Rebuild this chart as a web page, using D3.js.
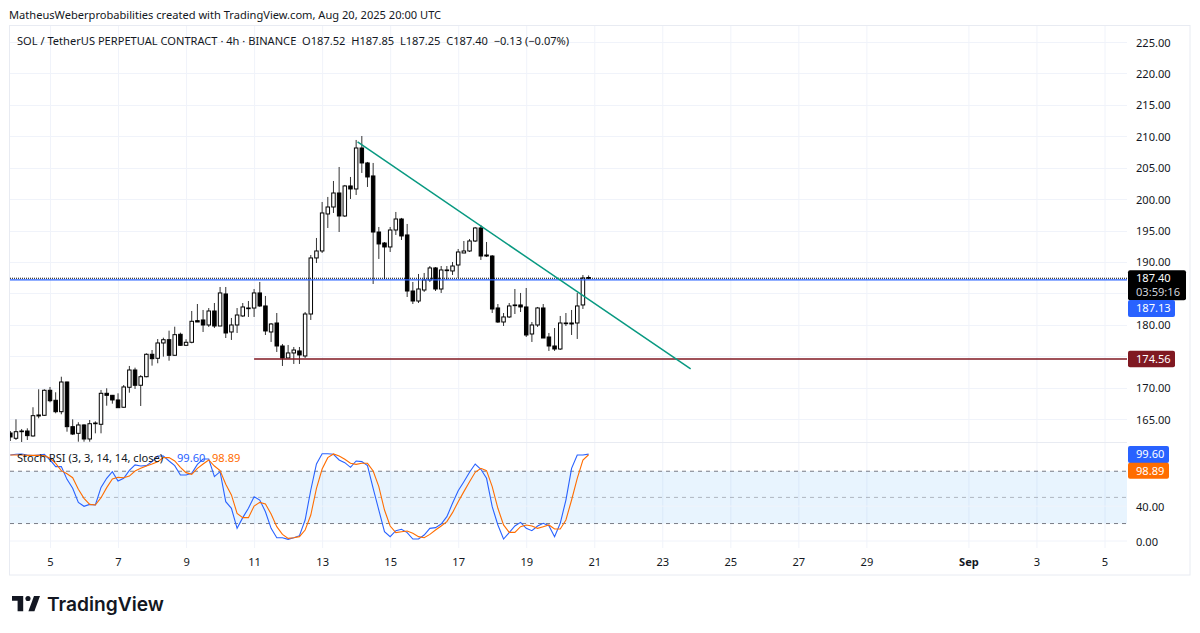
<!DOCTYPE html>
<html>
<head>
<meta charset="utf-8">
<script src="https://cdn.jsdelivr.net/npm/d3@7"></script>
<style>
html,body{margin:0;padding:0;background:#fff;}
svg{display:block;}
text{font-family:"Noto Sans",sans-serif;font-size:11.1px;fill:#131722;}
</style>
</head>
<body>
<svg id="chart" width="1200" height="633"></svg>
<script>
// SOL/USDT perpetual, 4h candles from Aug 3 20:00 UTC
const opens=[162.77,161.93,163.09,163.09,162.30,165.48,165.59,169.57,167.98,166.16,
170.89,163.78,162.72,164.05,161.82,164.25,164.16,169.09,168.77,168.03,
166.87,170.05,172.80,170.37,171.73,175.30,174.66,177.10,177.62,175.14,
178.48,176.73,177.21,180.65,180.76,179.96,182.19,179.80,184.90,178.85,
179.96,181.40,182.56,182.66,185.06,182.99,178.85,180.28,176.62,174.71,
175.51,175.83,175.03,181.71,190.63,191.74,197.63,198.74,200.97,197.31,
202.09,201.61,208.13,205.75,203.68,194.76,193.01,192.38,195.08,196.83,
194.29,185.37,183.78,185.53,187.13,189.04,185.69,188.61,188.56,189.51,
191.42,191.74,193.33,195.40,191.10,190.94,182.67,180.44,181.24,183.04,
183.15,182.83,178.53,179.96,182.67,178.05,176.62,176.14,180.17,180.28,
180.28,183.15,187.52];
const highs=[163.09,164.95,163.41,163.52,166.87,169.73,169.73,170.10,169.25,171.73,
170.94,164.95,164.48,164.16,164.84,164.63,169.62,169.89,168.82,169.09,
170.41,173.44,173.17,171.99,175.46,175.98,177.73,177.94,179.06,179.69,
178.74,177.69,182.19,183.30,182.35,182.66,183.46,186.01,186.01,181.08,
182.66,183.46,183.78,185.69,186.81,184.58,180.28,181.87,176.94,176.78,
176.46,176.46,182.03,191.10,193.81,199.54,200.34,202.88,205.11,202.25,
203.52,209.41,210.04,205.91,205.75,195.56,193.17,195.56,197.95,197.00,
196.04,186.81,188.08,188.24,189.35,189.19,189.35,189.35,189.99,192.06,
193.33,193.65,195.56,195.88,193.17,191.10,183.30,181.87,183.46,185.69,
185.06,185.85,180.44,182.83,183.30,178.69,179.48,181.40,181.87,182.35,
185.06,187.92,187.85];
const lows=[161.50,161.66,161.23,161.66,162.19,165.11,165.48,167.66,165.91,165.75,
162.98,162.45,161.39,161.39,161.39,162.72,162.72,167.12,167.44,166.80,
166.80,169.19,169.78,167.07,171.64,173.49,173.87,174.92,174.28,175.08,
176.62,176.62,177.05,180.44,178.85,179.65,179.48,179.80,177.89,177.58,
178.69,181.24,181.24,181.24,182.83,178.37,177.26,175.67,173.44,174.71,
173.76,173.76,174.71,180.76,189.83,191.42,195.40,197.79,194.76,197.15,
200.02,200.65,204.16,201.93,186.49,190.47,187.28,191.58,194.29,193.49,
184.42,183.30,183.46,185.22,186.81,185.37,185.06,187.13,187.92,187.44,
191.42,191.58,193.17,190.31,190.78,181.87,180.28,179.80,181.08,181.71,
182.03,178.05,177.26,179.65,177.89,175.83,175.83,175.98,179.80,178.37,
177.74,182.51,187.25];
const closes=[162.14,162.98,162.98,162.35,165.53,165.64,169.57,167.91,166.16,170.89,
163.78,162.61,164.05,161.82,164.25,164.36,169.09,168.77,168.03,166.80,
170.10,172.80,170.37,171.73,175.30,174.60,177.10,177.62,175.14,178.42,
176.73,177.21,180.55,180.44,179.96,182.19,179.80,185.06,178.69,179.96,
181.55,182.83,182.67,185.06,182.99,179.01,180.12,176.62,174.71,175.51,
175.98,175.19,181.71,190.63,191.74,197.79,198.74,200.97,197.31,202.09,
201.61,208.13,205.75,203.52,194.76,192.86,192.38,195.08,196.83,194.13,
185.37,183.78,185.69,187.13,189.04,185.69,188.72,188.72,189.35,191.58,
191.74,193.33,195.40,190.94,190.94,182.51,180.44,181.24,182.99,183.15,
182.83,178.37,179.96,182.67,177.89,176.62,176.14,180.28,180.28,180.12,
182.99,187.44,187.40];

// Stochastic RSI lines, one value per candle
const stochK=[98.6,99.4,99.8,98.6,97.9,98.6,99.4,92.9,85.3,85.3,
70.7,60.4,44.3,39.8,42.0,41.3,61.5,71.9,79.5,68.8,
71.9,81.0,87.2,86.0,86.4,91.0,97.5,97.5,91.75,86.4,
75.7,75.7,77.6,87.9,94.0,94.0,73.8,79.5,45.1,37.5,
14.5,26.8,37.5,50.8,47.0,33.6,14.5,3.8,3.8,1.9,
3.8,6.1,24.1,58.5,88.3,100,100,99.4,92.9,89.8,
84.5,91.75,91.0,86.4,60.4,35.5,10.7,5.0,11.8,13.4,
9.6,2.3,2.3,6.9,14.5,15.3,19.5,27.9,43.2,57.7,
68.0,78.8,88.3,82.2,71.9,39.4,18.4,2.3,9.6,17.2,
21.4,14.5,11.8,17.2,20.3,17.6,5.0,20.3,47.0,83.3,
98.6,98.6,99.60];
const stochD=[98.6,98.6,98.6,98.2,98.2,98.2,97.9,94.8,89.1,80.7,
77.2,72.6,59.3,48.9,42.0,41.3,49.7,61.2,71.1,73.0,
72.6,74.5,80.3,83.3,86.0,88.3,91.0,95.6,95.6,91.75,
84.5,78.4,76.5,83.3,88.3,92.9,86.0,80.7,65.0,52.8,
31.7,26.8,26.8,40.1,44.3,42.4,31.0,16.4,7.6,3.0,
3.8,5.0,12.6,29.8,60.4,82.6,95.6,99.8,97.5,93.7,
89.1,87.9,89.1,89.1,80.3,62.3,35.5,17.2,9.6,10.7,
11.5,8.8,5.0,3.8,7.6,12.6,17.2,22.2,32.5,45.1,
56.6,68.0,78.8,83.3,80.7,62.3,37.5,18.4,9.9,9.9,
16.4,18.4,17.2,14.5,16.4,18.4,13.8,13.8,24.1,47.0,
71.9,92.9,98.89];

// Axis ticks
const priceGrid=[225,220,215,210,205,200,195,190,185,180,175,170,165];
const priceTicks=[225,220,215,210,205,200,195,190,180,170,165];
const stochGrid=[40,0];
const stochBands=[80,50,20];
const dayTicks=[new Date(Date.UTC(2025,7,5)),new Date(Date.UTC(2025,7,7)),new Date(Date.UTC(2025,7,9)),
  new Date(Date.UTC(2025,7,11)),new Date(Date.UTC(2025,7,13)),new Date(Date.UTC(2025,7,15)),
  new Date(Date.UTC(2025,7,17)),new Date(Date.UTC(2025,7,19)),new Date(Date.UTC(2025,7,21)),
  new Date(Date.UTC(2025,7,23)),new Date(Date.UTC(2025,7,25)),new Date(Date.UTC(2025,7,27)),
  new Date(Date.UTC(2025,7,29)),new Date(Date.UTC(2025,8,1)),new Date(Date.UTC(2025,8,3)),
  new Date(Date.UTC(2025,8,5))];

// Drawn levels and trend line
const lastClose=187.40, prevLevel=187.13, support=174.56;
const supportStart=new Date(Date.UTC(2025,7,11));
const trendTimes=[new Date(Date.UTC(2025,7,14,1)),new Date(Date.UTC(2025,7,23,20))];
const trendPrices=[209.09,172.96];

const firstCandle=Date.UTC(2025,7,3,20);
const fourHours=4*3600*1000;
const candles=opens.map((o,i)=>({t:new Date(firstCandle+i*fourHours),o,h:highs[i],l:lows[i],c:closes[i],k:stochK[i],d:stochD[i]}));

// Frame geometry
const paneLeft=10,paneRight=1127,frameRight=1190,frameTop=26,paneSplit=443,paneBottom=548,frameBottom=575;
const gridColor="#f0f3fa",frameColor="#e8ebf2",axisFont='"Noto Sans",sans-serif',axisSize="11.1px";

const svg=d3.select("#chart");
const x=d3.scaleUtc().domain([Date.UTC(2025,7,5),Date.UTC(2025,8,5)]).range([50,1104.5]);
const y=d3.scaleLinear().domain([165,225]).range([419,42]);
const ys=d3.scaleLinear().domain([0,100]).range([541,453.8]);

const defs=svg.append("defs");
defs.append("clipPath").attr("id","price-clip").append("rect")
  .attr("x",paneLeft).attr("y",frameTop).attr("width",paneRight-paneLeft).attr("height",paneSplit-frameTop);
defs.append("clipPath").attr("id","stoch-clip").append("rect")
  .attr("x",paneLeft).attr("y",paneSplit).attr("width",paneRight-paneLeft).attr("height",paneBottom-paneSplit);

// Vertical and horizontal grid
const grid=svg.append("g").attr("stroke",gridColor).attr("fill","none");
grid.selectAll(".v").data(dayTicks).join("line").attr("class","v")
  .attr("x1",d=>x(d)+.5).attr("x2",d=>x(d)+.5).attr("y1",frameTop).attr("y2",paneBottom);
grid.selectAll(".h").data(priceGrid).join("line").attr("class","h")
  .attr("x1",paneLeft).attr("x2",paneRight).attr("y1",d=>Math.round(y(d))+.5).attr("y2",d=>Math.round(y(d))+.5);

// Candles
const pricePane=svg.append("g").attr("clip-path","url(#price-clip)");
const bars=pricePane.selectAll(".candle").data(candles).join("g").attr("class","candle");
bars.append("line").attr("x1",d=>x(d.t)).attr("x2",d=>x(d.t))
  .attr("y1",d=>y(d.h)).attr("y2",d=>y(d.l)).attr("stroke","#333").attr("stroke-width",1);
bars.append("rect").attr("x",d=>x(d.t)-1.75).attr("width",3.5)
  .attr("y",d=>y(Math.max(d.o,d.c)))
  .attr("height",d=>Math.max(0.5,Math.abs(y(d.o)-y(d.c))))
  .attr("fill",d=>d.c>=d.o?"#fff":"#000").attr("stroke","#000").attr("stroke-width",1);

// Levels and trend line
pricePane.append("line").attr("x1",paneLeft).attr("x2",paneRight).attr("y1",y(lastClose)).attr("y2",y(lastClose))
  .attr("stroke","#000").attr("stroke-dasharray","1 1");
pricePane.append("line").attr("x1",paneLeft).attr("x2",paneRight).attr("y1",y(prevLevel)).attr("y2",y(prevLevel))
  .attr("stroke","#2962ff").attr("stroke-width",1.2);
pricePane.append("line").attr("x1",x(supportStart)).attr("x2",paneRight).attr("y1",y(support)).attr("y2",y(support))
  .attr("stroke","#801922").attr("stroke-width",1.5);
pricePane.append("line")
  .attr("x1",x(trendTimes[0])).attr("x2",x(trendTimes[1]))
  .attr("y1",y(trendPrices[0])).attr("y2",y(trendPrices[1]))
  .attr("stroke","#089981").attr("stroke-width",1.5);

// Stochastic RSI pane
const stochPane=svg.append("g").attr("clip-path","url(#stoch-clip)");
stochPane.append("rect").attr("x",paneLeft).attr("width",paneRight-paneLeft)
  .attr("y",ys(80)).attr("height",ys(20)-ys(80)).attr("fill","#2196f3").attr("opacity",.1);
stochPane.selectAll(".sg").data(stochGrid).join("line").attr("class","sg")
  .attr("x1",paneLeft).attr("x2",paneRight).attr("y1",d=>ys(d)).attr("y2",d=>ys(d)).attr("stroke",gridColor);
stochPane.selectAll(".band").data(stochBands).join("line").attr("class","band")
  .attr("x1",paneLeft).attr("x2",paneRight).attr("y1",d=>ys(d)).attr("y2",d=>ys(d))
  .attr("stroke","#787b86").attr("stroke-dasharray","4 4").attr("opacity",d=>d===50?.5:1);
const kLine=d3.line().x(d=>x(d.t)).y(d=>ys(d.k));
const dLine=d3.line().x(d=>x(d.t)).y(d=>ys(d.d));
stochPane.append("path").datum(candles).attr("d",kLine).attr("fill","none").attr("stroke","#2962ff").attr("stroke-width",1.1);
stochPane.append("path").datum(candles).attr("d",dLine).attr("fill","none").attr("stroke","#ff6d00").attr("stroke-width",1.1);

// Frame
const frame=svg.append("g").attr("stroke",frameColor).attr("fill","none");
frame.append("rect").attr("x",paneLeft-.5).attr("y",frameTop-.5).attr("width",frameRight-paneLeft+.5).attr("height",frameBottom-frameTop+.5);
frame.append("line").attr("x1",paneLeft).attr("x2",paneRight).attr("y1",paneSplit-.5).attr("y2",paneSplit-.5);

// Axes
const priceAxis=d3.axisRight(y).tickValues(priceTicks).tickFormat(d3.format(".2f")).tickSize(0).tickPadding(9);
svg.append("g").attr("transform",`translate(${paneRight},0.5)`).call(priceAxis)
  .call(g=>g.select(".domain").remove())
  .selectAll("text").style("font-family",axisFont).style("font-size",axisSize).attr("fill","#131722");
const stochAxis=d3.axisRight(ys).tickValues(stochGrid).tickFormat(d3.format(".2f")).tickSize(0).tickPadding(9);
svg.append("g").attr("transform",`translate(${paneRight},0.5)`).call(stochAxis)
  .call(g=>g.select(".domain").remove())
  .selectAll("text").style("font-family",axisFont).style("font-size",axisSize).attr("fill","#131722");
const timeAxis=d3.axisBottom(x).tickValues(dayTicks)
  .tickFormat(d=>d.getUTCDate()===1?d3.utcFormat("%b")(d):d.getUTCDate()).tickSize(0).tickPadding(10);
svg.append("g").attr("transform",`translate(0,${paneBottom})`).call(timeAxis)
  .call(g=>g.select(".domain").remove())
  .selectAll("text").style("font-family",axisFont).style("font-size",axisSize).attr("fill","#131722")
  .style("font-weight",d=>d.getUTCDate()===1?"700":"400");

// Value badges on the axes
function badge(value,scale,w,h,offset,fill,color){
  const cy=scale(value);
  const g=svg.append("g");
  g.append("rect").attr("x",paneRight+1).attr("y",cy-h/2+offset).attr("width",w).attr("height",h).attr("rx",2).attr("fill",fill);
  g.append("text").attr("x",paneRight+9).attr("y",cy+offset+4).style("fill",color).text(d3.format(".2f")(value));
  return g;
}
const lastBox=svg.append("g");
lastBox.append("rect").attr("x",paneRight+1).attr("y",y(lastClose)-8).attr("width",58).attr("height",30).attr("rx",2).attr("fill","#000");
lastBox.append("text").attr("x",paneRight+9).attr("y",y(lastClose)+4).style("fill","#fff").text(d3.format(".2f")(lastClose));
lastBox.append("text").attr("x",paneRight+9).attr("y",y(lastClose)+18).style("fill","#d1d4dc").text("03:59:16");
badge(prevLevel,y,47,17,28.5,"#2962ff","#fff");
badge(support,y,47,16.5,0,"#801922","#fff");
badge(stochK[stochK.length-1],ys,41,17,0.3,"#2962ff","#fff");
badge(stochD[stochD.length-1],ys,41,16,16,"#ff6d00","#fff");

// Header and legends
svg.append("text").attr("x",9).attr("y",19).text("MatheusWeberprobabilities created with TradingView.com, Aug 20, 2025 20:00 UTC");
svg.append("text").attr("x",17).attr("y",45).text("SOL / TetherUS PERPETUAL CONTRACT · 4h · BINANCE  O187.52  H187.85  L187.25  C187.40  −0.13 (−0.07%)").style("white-space","pre");
const legend=svg.append("text").attr("x",17).attr("y",462);
legend.append("tspan").text("Stoch RSI (3, 3, 14, 14, close)");
legend.append("tspan").attr("x",177).style("fill","#2962ff").text(d3.format(".2f")(stochK[stochK.length-1]));
legend.append("tspan").attr("x",212).style("fill","#ff6d00").text(d3.format(".2f")(stochD[stochD.length-1]));

// Brand mark
const logo=svg.append("g").attr("transform","translate(12,596) scale(0.8)").attr("fill","#131722");
logo.append("path").attr("d","M14 0H0v6h7v13h7V0Z");
logo.append("path").attr("d","M28 19h-7.5l7-19H35l-7 19Z");
logo.append("circle").attr("cx",20).attr("cy",3.2).attr("r",3.2);
svg.append("text").attr("x",47).attr("y",611).style("font-family","Inter,sans-serif").style("font-size","19.2px").style("font-weight","600").text("TradingView");
</script>
</body>
</html>
